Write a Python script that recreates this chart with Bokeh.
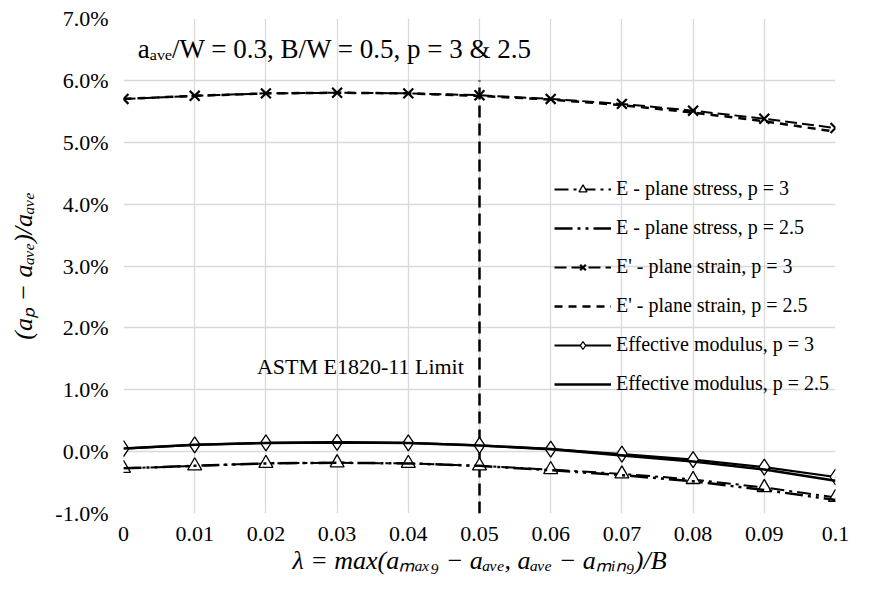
from bokeh.plotting import figure
from bokeh.models import Range1d, FixedTicker, NumeralTickFormatter, Legend, LegendItem, Label
from bokeh.embed import file_html
from bokeh.resources import INLINE

# ---- data (values in percent) ----
lam = [0.0, 0.01, 0.02, 0.03, 0.04, 0.05, 0.06, 0.07, 0.08, 0.09, 0.1]
e_stress_p3 = [-0.27, -0.23, -0.19, -0.18, -0.19, -0.23, -0.29, -0.36, -0.45, -0.58, -0.74]
e_stress_p25 = [-0.27, -0.23, -0.19, -0.18, -0.19, -0.23, -0.30, -0.38, -0.48, -0.62, -0.78]
e_strain_p3 = [5.70, 5.75, 5.79, 5.80, 5.79, 5.76, 5.70, 5.62, 5.51, 5.38, 5.23]
e_strain_p25 = [5.70, 5.75, 5.79, 5.80, 5.79, 5.75, 5.69, 5.60, 5.48, 5.34, 5.17]
eff_p3 = [0.05, 0.11, 0.14, 0.15, 0.14, 0.10, 0.04, -0.04, -0.13, -0.25, -0.41]
eff_p25 = [0.05, 0.11, 0.14, 0.15, 0.14, 0.10, 0.04, -0.06, -0.16, -0.29, -0.47]
limit_x = 0.05
limit_y = [-1.0, 6.0]
x_ticks = [0.0, 0.01, 0.02, 0.03, 0.04, 0.05, 0.06, 0.07, 0.08, 0.09, 0.1]
x_tick_labels = ["0", "0.01", "0.02", "0.03", "0.04", "0.05", "0.06", "0.07", "0.08", "0.09", "0.1"]
y_ticks = [-1, 0, 1, 2, 3, 4, 5, 6, 7]

def frac(v):
    return [x / 100.0 for x in v]

FONT = "Liberation Serif"
TXT = "#000000"

p = figure(width=885, height=590, output_backend="svg", toolbar_location=None,
           x_range=Range1d(0, 0.1), y_range=Range1d(-0.01, 0.07),
           min_border_left=123, min_border_right=50, min_border_top=18, min_border_bottom=77)
p.outline_line_color = None
p.background_fill_color = "white"
p.border_fill_color = "white"

# axes
p.xaxis.ticker = FixedTicker(ticks=x_ticks)
p.xaxis.major_label_overrides = {t: l for t, l in zip(x_ticks, x_tick_labels)}
p.yaxis.ticker = FixedTicker(ticks=[t / 100.0 for t in y_ticks])
p.yaxis.formatter = NumeralTickFormatter(format="0.0%")
for ax in (p.xaxis, p.yaxis):
    ax.axis_line_color = None
    ax.major_tick_line_color = None
    ax.minor_tick_line_color = None
    ax.major_tick_out = 0
    ax.major_tick_in = 0
    ax.major_label_text_font = FONT
    ax.major_label_text_font_size = "22px"
    ax.major_label_text_color = TXT
    ax.axis_label_text_font = FONT
    ax.axis_label_text_font_size = "26px"
    ax.axis_label_text_font_style = "italic"
    ax.axis_label_text_color = TXT
p.xaxis.major_label_standoff = 13
p.yaxis.major_label_standoff = 15
p.xaxis.axis_label = "\u03bb = max(a\u2098\u2090\u2093\u2089 \u2212 a\u2090\u1d65\u2091, a\u2090\u1d65\u2091 \u2212 a\u2098\u1d62\u2099\u2089)/B"
p.yaxis.axis_label = "(a\u209a \u2212 a\u2090\u1d65\u2091)/a\u2090\u1d65\u2091"
p.xaxis.axis_label_standoff = 2
p.yaxis.axis_label_standoff = 14

p.xgrid.ticker = FixedTicker(ticks=x_ticks)
p.ygrid.ticker = FixedTicker(ticks=[t / 100.0 for t in y_ticks])
p.grid.grid_line_color = "#d9d9d9"
p.grid.grid_line_width = 1.3

# limit line
p.segment(x0=[limit_x], y0=[frac(limit_y)[0]], x1=[limit_x], y1=[frac(limit_y)[1]],
          line_color="black", line_width=2.5, line_dash="12 6")

# series
r1l = p.line(lam, frac(e_stress_p3), line_color="black", line_width=2, line_dash="14 5 3 5")
r1m = p.scatter(lam, frac(e_stress_p3), marker="triangle", size=14, fill_color="white",
                line_color="black", line_width=1.3)
r2l = p.line(lam, frac(e_stress_p25), line_color="black", line_width=2.5, line_dash="18 5 3 5 3 5")
r3l = p.line(lam, frac(e_strain_p3), line_color="black", line_width=2, line_dash="12 5")
r3m = p.scatter(lam, frac(e_strain_p3), marker="x", size=14, line_color="black", line_width=2.2)
r4l = p.line(lam, frac(e_strain_p25), line_color="black", line_width=2.5, line_dash="8 6")
r5l = p.line(lam, frac(eff_p3), line_color="black", line_width=2.2)
r5m = p.scatter(lam, frac(eff_p3), marker="diamond", size=16, fill_color="white",
                line_color="black", line_width=1.3)
r6l = p.line(lam, frac(eff_p25), line_color="black", line_width=2.6)

legend = Legend(items=[
    LegendItem(label="E - plane stress, p = 3", renderers=[r1l, r1m]),
    LegendItem(label="E - plane stress, p = 2.5", renderers=[r2l]),
    LegendItem(label="E' - plane strain, p = 3", renderers=[r3l, r3m]),
    LegendItem(label="E' - plane strain, p = 2.5", renderers=[r4l]),
    LegendItem(label="Effective modulus, p = 3", renderers=[r5l, r5m]),
    LegendItem(label="Effective modulus, p = 2.5", renderers=[r6l]),
], location=(431, 118))
legend.background_fill_alpha = 0
legend.border_line_alpha = 0
legend.padding = 0
legend.margin = 0
legend.spacing = 16
legend.glyph_width = 57
legend.glyph_height = 20
legend.label_height = 20
legend.label_standoff = 5
legend.label_text_font = FONT
legend.label_text_font_size = "20px"
legend.label_text_color = TXT
p.add_layout(legend, "center")

# annotations
p.add_layout(Label(x=0.002, y=0.065, text="a\u2090\u1d65\u2091/W = 0.3, B/W = 0.5, p = 3 & 2.5",
                   text_font=FONT, text_font_size="27px", text_color=TXT, text_baseline="middle"))
p.add_layout(Label(x=0.0478, y=0.0137, text="ASTM E1820-11 Limit", text_font=FONT,
                   text_font_size="22px", text_color=TXT, text_align="right", text_baseline="middle"))

open("out.html", "w").write(file_html(p, INLINE))
